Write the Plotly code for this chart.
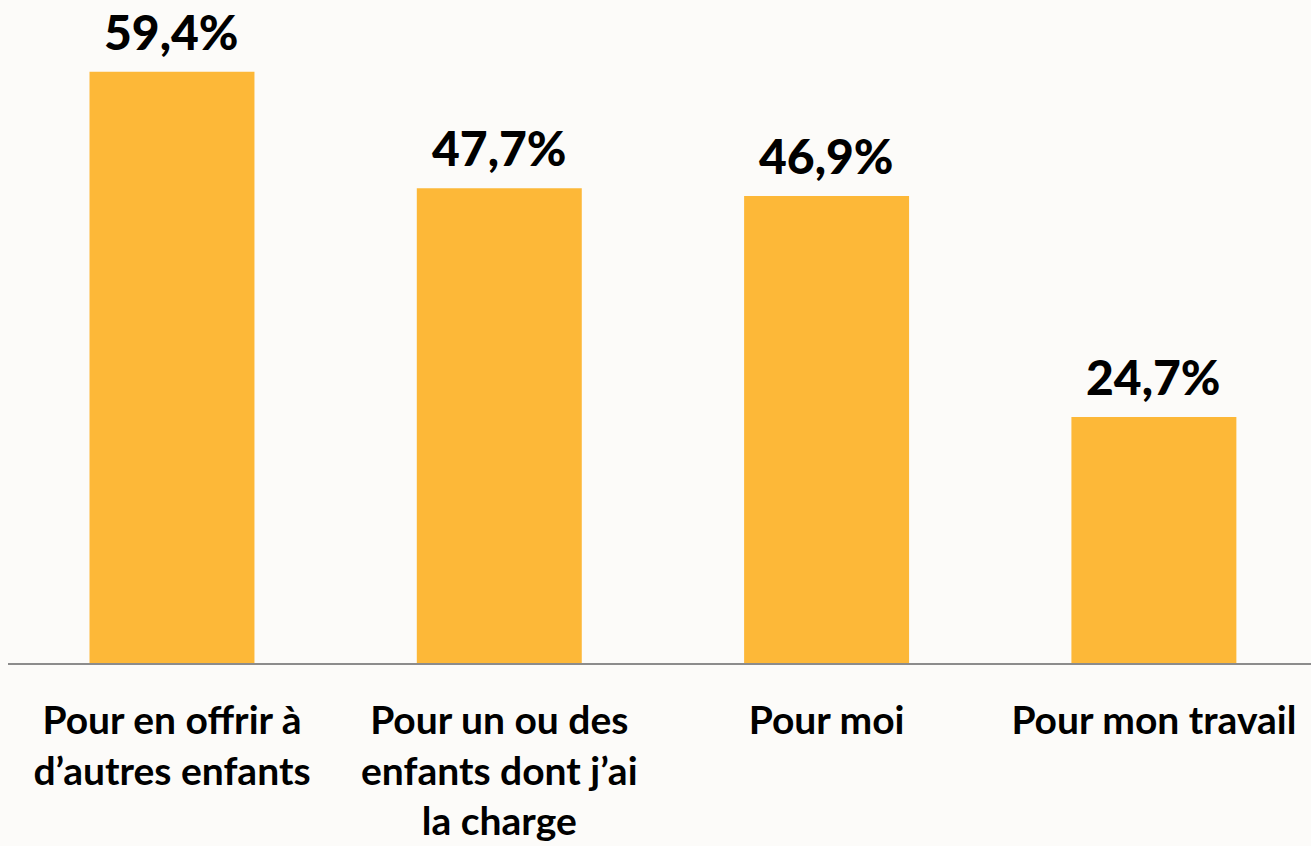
import plotly.graph_objects as go

categories = ["Pour en offrir à<br>d’autres enfants",
              "Pour un ou des<br>enfants dont j’ai<br>la charge",
              "Pour moi",
              "Pour mon travail"]
values = [59.4, 47.7, 46.9, 24.7]
value_labels = ["59,4%", "47,7%", "46,9%", "24,7%"]

BAR = "#FDB838"
BG = "#FCFBF9"
FONT = "Lato"

fig = go.Figure(go.Bar(
    x=categories, y=values,
    marker=dict(color=BAR, line=dict(width=0)),
    width=0.504, hoverinfo="skip",
))

for c, v, t in zip(categories, values, value_labels):
    fig.add_annotation(
        x=c, y=v, text=t, showarrow=False,
        yanchor="bottom", yshift=10,
        font=dict(family=FONT, size=48, color="#000000", weight=900),
    )

fig.update_layout(
    width=1311, height=846,
    paper_bgcolor=BG, plot_bgcolor=BG,
    margin=dict(l=8, r=0, t=0, b=183),
    showlegend=False,
    xaxis=dict(
        showgrid=False, zeroline=False,
        range=[-0.501, 3.48],
        showline=True, linecolor="#8C8C8C", linewidth=2,
        ticks="", ticklabelstandoff=22,
        tickfont=dict(family=FONT, size=39, color="#000000", weight="bold"),
        fixedrange=True,
    ),
    yaxis=dict(visible=False, range=[0, 66.6], fixedrange=True),
)

fig.write_html(
    "out.html",
    config={"displayModeBar": False},
    post_script="document.body.style.margin='0';document.body.style.background='%s';" % BG,
)
